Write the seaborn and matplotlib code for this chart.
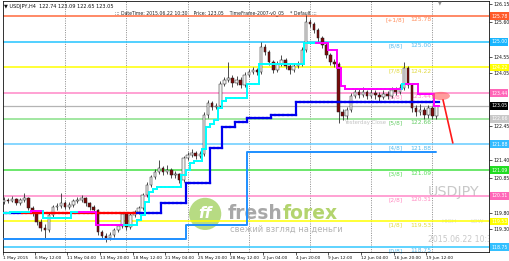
import numpy as np
import pandas as pd
import matplotlib
matplotlib.use("Agg")
import matplotlib.pyplot as plt
import matplotlib.transforms as mtransforms
from matplotlib.collections import LineCollection
from matplotlib.patches import Ellipse
import seaborn as sns

# ------------------------------------------------------------------ data
# USDJPY H4 candles (aggregated two bars per candle)
first_open = 120.12
closes = [120.18, 120.15, 120.21, 120.09, 120.18, 120.24, 119.94, 119.82, 119.51, 119.33,
          119.27, 119.73, 119.97, 120.00, 120.09, 119.97, 120.03, 120.15, 120.18, 120.24,
          120.09, 119.97, 119.88, 119.21, 119.09, 119.03, 119.12, 119.27, 119.39, 119.76,
          119.36, 119.73, 119.82, 119.94, 120.34, 120.64, 120.88, 121.04, 121.16, 121.04,
          121.10, 120.94, 120.97, 120.79, 121.46, 121.55, 121.61, 121.52, 121.58, 122.77,
          123.14, 123.01, 123.04, 123.71, 123.84, 123.90, 123.75, 123.84, 123.68, 123.99,
          124.08, 124.14, 124.08, 124.84, 124.69, 124.38, 124.14, 124.32, 124.45, 124.26,
          124.14, 124.26, 124.32, 124.75, 125.60, 125.54, 125.36, 125.11, 124.90, 124.60,
          124.38, 124.32, 122.86, 122.74, 122.92, 123.35, 123.47, 123.38, 123.47, 123.35,
          123.44, 123.38, 123.32, 123.41, 123.35, 123.53, 123.47, 123.59, 124.20, 123.68,
          122.98, 122.86, 122.92, 122.77, 122.98, 122.74, 123.05]
highs = [120.27, 120.24, 120.30, 120.24, 120.24, 120.40, 120.27, 120.00, 119.85, 119.60,
         119.45, 119.79, 120.03, 120.09, 120.40, 120.15, 120.12, 120.21, 120.27, 120.33,
         120.27, 120.12, 120.03, 119.91, 119.27, 119.18, 119.21, 119.33, 119.45, 119.82,
         119.82, 119.79, 119.88, 120.00, 120.40, 120.73, 120.94, 121.13, 121.40, 121.22,
         121.25, 121.16, 121.07, 121.01, 121.52, 121.64, 121.73, 121.67, 121.67, 122.86,
         123.23, 123.20, 123.14, 123.80, 123.93, 124.38, 123.99, 123.96, 123.93, 124.08,
         124.17, 124.23, 124.20, 125.00, 124.93, 124.75, 124.45, 124.41, 124.60, 124.51,
         124.32, 124.35, 124.41, 124.84, 125.81, 125.69, 125.60, 125.42, 125.17, 124.96,
         124.66, 124.48, 124.38, 122.95, 123.01, 123.44, 123.59, 123.56, 123.62, 123.53,
         123.56, 123.53, 123.47, 123.53, 123.50, 123.62, 123.62, 123.71, 124.38, 124.26,
         123.74, 123.07, 123.10, 123.01, 123.07, 123.04, 123.09]
lows = [120.06, 120.09, 120.12, 120.03, 120.03, 120.12, 119.88, 119.70, 119.42, 119.24,
        119.00, 119.21, 119.67, 119.88, 119.94, 119.91, 119.91, 119.97, 120.09, 120.12,
        120.00, 119.88, 119.79, 119.12, 119.00, 118.91, 118.97, 119.06, 119.21, 119.33,
        119.27, 119.30, 119.67, 119.76, 119.88, 120.27, 120.58, 120.82, 120.97, 120.94,
        120.97, 120.85, 120.85, 120.70, 120.73, 121.40, 121.49, 121.43, 121.46, 121.52,
        122.68, 122.92, 122.95, 122.98, 123.65, 123.77, 123.62, 123.68, 123.59, 123.62,
        123.93, 124.02, 123.99, 124.02, 124.60, 124.29, 124.05, 124.08, 124.26, 124.17,
        124.02, 124.08, 124.20, 124.26, 124.69, 125.45, 125.27, 125.02, 124.81, 124.51,
        124.29, 124.23, 122.53, 122.62, 122.65, 122.86, 123.29, 123.29, 123.32, 123.26,
        123.29, 123.26, 123.20, 123.26, 123.26, 123.29, 123.38, 123.41, 123.53, 123.59,
        122.86, 122.74, 122.77, 122.65, 122.68, 122.65, 122.65]

# fast trailing stop (run-length encoded): level, number of candles, colour
fast_levels = [119.79, 119.82, 119.85, 119.64, 119.82, 119.82, 119.42, 119.42, 119.57, 119.73,
               120.12, 120.42, 120.52, 120.58, 120.94, 121.09, 121.31, 121.37, 121.73, 122.41,
               122.50, 122.62, 122.99, 123.20, 123.29, 123.71, 124.32, 124.96, 124.96, 124.75,
               124.20, 123.65, 123.56, 123.71, 123.71, 123.41, 123.05]
fast_lengths = [2, 5, 3, 7, 2, 4, 7, 3, 1, 1,
                1, 1, 1, 6, 1, 1, 1, 2, 1, 1,
                1, 1, 1, 1, 5, 3, 11, 3, 3, 2,
                1, 1, 14, 1, 3, 4, 1]
fast_colors = ["#00ffff", "#00ffff", "#ff00ff", "#00ffff", "#00ffff", "#ff00ff", "#ff00ff", "#00ffff", "#00ffff", "#00ffff",
               "#00ffff", "#00ffff", "#00ffff", "#00ffff", "#00ffff", "#00ffff", "#00ffff", "#00ffff", "#00ffff", "#00ffff",
               "#00ffff", "#00ffff", "#00ffff", "#00ffff", "#00ffff", "#00ffff", "#00ffff", "#00ffff", "#ff00ff", "#ff00ff",
               "#ff00ff", "#ff00ff", "#ff00ff", "#00ffff", "#ff00ff", "#ff00ff", "#ff00ff"]

# slow trailing stop
slow_levels = [119.79, 119.79, 119.79, 120.09, 120.70, 121.77, 122.41, 122.56, 122.68, 122.77, 123.17]
slow_lengths = [5, 28, 6, 6, 6, 3, 3, 3, 6, 6, 35]
slow_colors = ["#0000ee", "#ff0000", "#0000ee", "#0000ee", "#0000ee", "#0000ee", "#0000ee",
               "#0000ee", "#0000ee", "#0000ee", "#0000ee"]

# outer stop line
outer_levels = [119.00, 119.42, 121.64]
outer_lengths = [45, 15, 47]

# Murrey math levels
murrey_levels = [125.78, 125.00, 124.22, 123.44, 122.66, 121.88, 121.09, 120.31, 119.53, 118.75]
murrey_names = ["[+1/8]", "[8/8]", "[7/8]", "[6/8]", "[5/8]", "[4/8]", "[3/8]", "[2/8]", "[1/8]", "[0/8]"]
murrey_line_colors = ["#ff6a3d", "#22c4ff", "#ffff00", "#ff88c8", "#88e088",
                      "#66ccff", "#44e044", "#ff88c8", "#ffff00", "#33c8ff"]
murrey_text_colors = ["#ff8c5a", "#55bbee", "#e0d840", "#ff88c0", "#66cc66",
                      "#55bbee", "#55dd55", "#ff88c0", "#e0d840", "#55bbee"]
murrey_box_colors = ["#ff5a2a", "#19b5fe", "#ffff00", "#ff66b8", "#c8c8c8",
                     "#33bbff", "#22dd22", "#ff66b8", "#ffff00", "#33c0ff"]
bid_price = 123.05

xtick_pos = [-0.2, 7.5, 15.5, 23.5, 31.5, 39.5, 47.5, 55.5, 63.5, 71.5, 79.5, 87.5, 95.5, 103.5]
xtick_labels = ["1 May 2015", "6 May 12:00", "11 May 04:00", "13 May 20:00", "18 May 12:00",
                "21 May 04:00", "25 May 20:00", "28 May 12:00", "2 Jun 04:00", "4 Jun 20:00",
                "9 Jun 12:00", "12 Jun 04:00", "16 Jun 20:00", "19 Jun 12:00"]
ytick_values = [126.15, 125.60, 124.55, 124.05, 122.45, 121.40, 120.85, 119.80, 119.30]
grid_pos = [15, 30, 45, 60, 75, 90, 105]

# analyst annotation (ellipse and arrow)
mark_center = (107.1, 123.35)
arrow_x = [107.6, 110.0]
arrow_y = [123.23, 121.92]

# ------------------------------------------------------------------ frame
sns.set_theme(style="white")
plt.rcParams["font.family"] = ["DejaVu Sans"]

fig = plt.figure(figsize=(5.10, 2.61), dpi=100)
ax = fig.add_axes([3 / 510, 9 / 261, 486 / 510, 251 / 261])
ax.set_facecolor("white")
ax.set_xlim(-0.245, 118.87)
ax.set_ylim(118.60, 126.241)

n = len(closes)
idx = np.arange(n)
opens = [first_open] + closes[:-1]
df = pd.DataFrame({"idx": idx, "open": opens, "close": closes, "high": highs, "low": lows})
df["up"] = df["close"] >= df["open"]

# vertical dotted grid
for g in grid_pos:
    ax.axvline(g, color="#7a7a7a", lw=0.6, ls=(0, (1.2, 1.6)), zorder=1)

# watermark logo
logo_x, logo_y = 49.3, 119.76
ax.add_patch(Ellipse((logo_x, logo_y), 7.9, 0.98, facecolor="#9fcf5a", edgecolor="none",
                     alpha=0.75, zorder=1.2))
ax.text(logo_x, logo_y, "ff", color="white", fontsize=11, fontweight="bold", style="italic",
        ha="center", va="center", zorder=1.3)
t1 = ax.text(54.9, 119.76, "fresh", color="#a8a8a8", fontsize=13.5, fontweight="bold",
             ha="left", va="center", zorder=1.2)
ax.annotate("forex", xy=(1, 0.5), xycoords=t1, color="#b3d46e", fontsize=13.5,
            fontweight="bold", ha="left", va="center", zorder=1.2)
ax.text(55.3, 119.30, "свежий взгляд на деньги", color="#b4b4b4", fontsize=6.0,
        ha="left", va="center", zorder=1.2)

# big symbol / time watermark
ax.text(110.3, 120.43, "USDJPY", color="#c8c8c8", fontsize=10.3, ha="center", va="center", zorder=1.2)
ax.text(109.0, 119.53, "HIGH", color="#dcdcdc", fontsize=4.2, ha="center", va="center", zorder=1.2)
ax.text(116.0, 119.53, "LOW", color="#dcdcdc", fontsize=4.2, ha="center", va="center", zorder=1.2)
ax.text(103.8, 118.98, "2015.06.22 10:30", color="#c8c8c8", fontsize=5.6, ha="left",
        va="center", zorder=1.2, clip_on=True)

# Murrey levels
for lv, lc in zip(murrey_levels, murrey_line_colors):
    ax.axhline(lv, color=lc, lw=1.1, zorder=2)
ax.axhline(bid_price, color="#b4b4b4", lw=0.9, zorder=2)

for lv, nm, tc in zip(murrey_levels, murrey_names, murrey_text_colors):
    ax.text(95.9, lv - 0.115, nm, color=tc, fontsize=4.2, ha="center", va="center", zorder=2.5)
    ax.text(99.5, lv - 0.115, f"{lv:.2f}", color=tc, fontsize=4.3, ha="left", va="center", zorder=2.5)
ax.text(93.6, 122.66 - 0.115, "Yesterday Close", color="#c4c4c4", fontsize=3.9, ha="right",
        va="center", zorder=2.4)

# candles
ax.vlines(df["idx"], df["low"], df["high"], color="#303030", lw=0.6, zorder=3)
body_lo = df[["open", "close"]].min(axis=1)
body_h = (df["close"] - df["open"]).abs().clip(lower=0.02)
ax.bar(df["idx"], body_h, bottom=body_lo, width=0.62,
       color=np.where(df["up"], "#f2f2f2", "#7a0a0a"), edgecolor="#202020", linewidth=0.35, zorder=3.1)

# step lines
def step_collection(levels, lengths, colors, lw):
    vals = np.repeat(levels, lengths)
    cols = np.repeat(colors, lengths)
    segs, cs = [], []
    for k in range(len(vals)):
        segs.append([(k - 0.5, vals[k]), (k + 0.5, vals[k])])
        cs.append(cols[k])
        if k > 0 and vals[k - 1] != vals[k]:
            segs.append([(k - 0.5, vals[k - 1]), (k - 0.5, vals[k])])
            cs.append(cols[k])
    return LineCollection(segs, colors=cs, linewidths=lw, capstyle="projecting", zorder=4)

outer_vals = np.repeat(outer_levels, outer_lengths)
sns.lineplot(x=idx, y=outer_vals, ax=ax, color="#1e8fff", lw=1.4, drawstyle="steps-mid",
             zorder=4, estimator=None)
ax.add_collection(step_collection(slow_levels, slow_lengths, slow_colors, 1.6))
ax.add_collection(step_collection(fast_levels, fast_lengths, fast_colors, 1.4))

# annotation
ax.add_patch(Ellipse(mark_center, 4.4, 0.25, facecolor="#ff5c5c", edgecolor="none", alpha=0.6, zorder=5))
ax.plot(arrow_x, arrow_y, color="#ff1a1a", lw=1.2, zorder=5)

# header texts
ax.text(0.003, 0.980, "▼ USDJPY,H4  122.74 123.09 122.65 123.05", transform=ax.transAxes,
        fontsize=3.6, color="#111111", ha="left", va="center", zorder=6)
ax.text(0.2305, 0.952, "::: DateTime: 2015.06.22 10:30    Price: 123.05    TimeFrame-2007-v0_05    * Default :::",
        transform=ax.transAxes, fontsize=3.3, color="#222222", ha="left", va="center", zorder=6)
ax.text(106.9, 126.19, "▼", fontsize=3.5, color="#909090", ha="center", va="center", zorder=6)

# axes styling
for sp in ax.spines.values():
    sp.set_visible(True)
    sp.set_color("#111111")
    sp.set_linewidth(0.6)
ax.yaxis.tick_right()
ax.set_yticks(ytick_values)
ax.set_yticklabels([f"{v:.2f}" for v in ytick_values])
ax.tick_params(axis="y", which="both", right=True, left=False, length=2, width=0.5,
               pad=1, labelsize=3.3, colors="#111111")
ax.set_xticks(xtick_pos)
ax.set_xticklabels(xtick_labels)
ax.tick_params(axis="x", which="both", bottom=True, length=2, width=0.5, pad=0.8,
               labelsize=3.05, colors="#111111")
for lab in ax.get_xticklabels():
    lab.set_ha("left")
ax.set_xlabel("")
ax.set_ylabel("")
ax.grid(False)

# right-hand price boxes
blend = mtransforms.blended_transform_factory(ax.transAxes, ax.transData)
box_entries = list(zip(murrey_levels, murrey_box_colors)) + [(bid_price, "#000000")]
for lv, bc in box_entries:
    ax.text(1.004, lv, f"{lv:.2f}", transform=blend, fontsize=3.3, color="white", ha="left",
            va="center", clip_on=False, zorder=7,
            bbox=dict(boxstyle="square,pad=0.3", facecolor=bc, edgecolor="none"))

fig.savefig("out.png", dpi=100, facecolor="white")
